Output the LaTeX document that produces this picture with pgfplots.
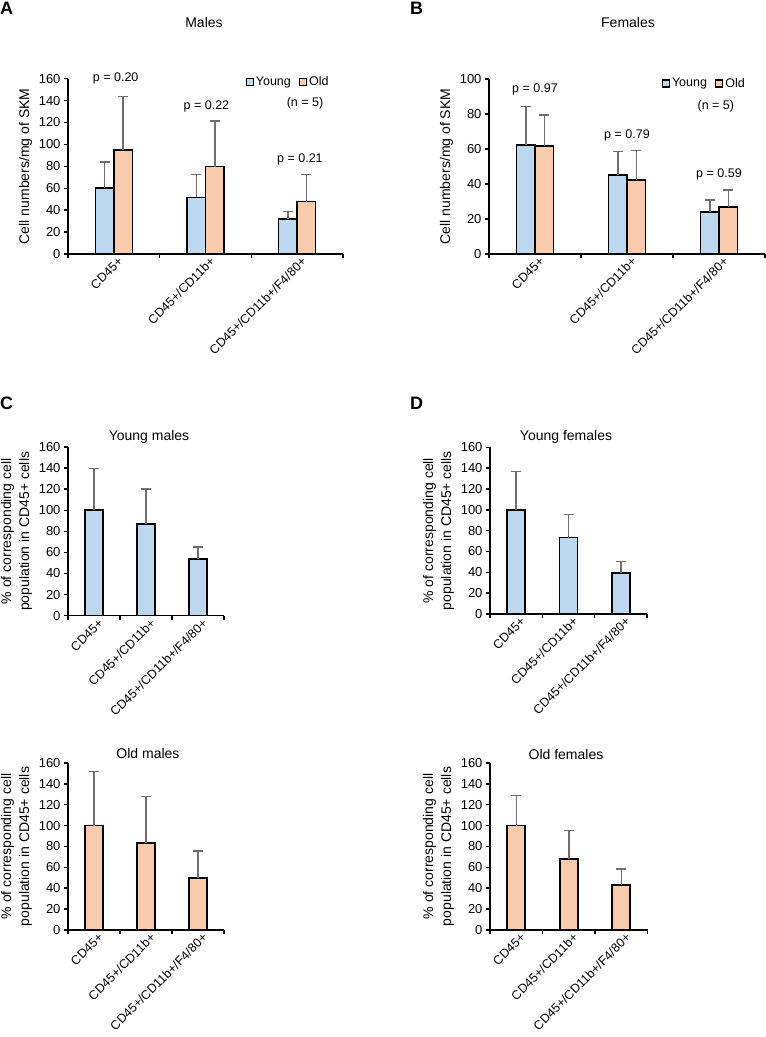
\documentclass[border=0pt]{standalone}
\usepackage{pgfplots}
\pgfplotsset{compat=1.18}
\usepackage{fontspec}
\setmainfont{Liberation Sans}
\definecolor{youngc}{HTML}{BDD7EE}
\definecolor{oldc}{HTML}{F8CBAD}
\definecolor{errc}{HTML}{6E6E6E}
\pgfplotsset{
 base/.style={
  scale only axis,
  axis x line*=bottom, axis y line*=left,
  axis line style={line width=1.6pt, black},
  tick align=outside,
  ymin=0, xmin=-0.5, xmax=2.5,
  xtick={-0.5,0.5,1.5,2.5},
  xticklabels={},
  extra x ticks={0,1,2},
  extra x tick labels={CD45+, CD45+/CD11b+, CD45+/CD11b+/F4/80+},
  extra x tick style={major tick length=0pt},
  x tick label style={rotate=45, anchor=north east, font=\fontsize{12.5}{14}\selectfont, inner sep=1pt, xshift=2pt, yshift=-3pt},
  y tick label style={font=\fontsize{13}{14}\selectfont},
  /pgf/number format/assume math mode=true,
  tick style={line width=1.5pt, black},
  major tick length=4pt,
  ylabel style={font=\fontsize{14}{18}\selectfont, align=center},
  ybar=0pt, bar width=18.5pt,
  clip=false,
  legend image code/.code={\draw[#1, draw=black, line width=1.3pt] (0pt,-3.5pt) rectangle (7pt,3.5pt);},
  legend style={draw=none, fill=none, inner sep=0pt, anchor=west, font=\fontsize{12.5}{14}\selectfont, legend columns=2, /tikz/every even column/.append style={column sep=6pt}},
 },
 ebar/.style={draw=black, line width=1.6pt,
  /pgfplots/error bars/y dir=plus, /pgfplots/error bars/y explicit,
  /pgfplots/error bars/error bar style={errc, line width=1.5pt},
  /pgfplots/error bars/error mark options={errc, line width=1.5pt, mark size=5pt, rotate=90}},
}
\begin{document}
\begin{tikzpicture}
\useasboundingbox (0,0) rectangle (766pt,1037pt);
% panel letters and titles
\node[anchor=west, inner sep=0pt, font=\fontsize{18}{20}\selectfont\bfseries] at (0pt,1028.5pt) {A};
\node[anchor=west, inner sep=0pt, font=\fontsize{18}{20}\selectfont\bfseries] at (410pt,1028.7pt) {B};
\node[anchor=west, inner sep=0pt, font=\fontsize{18}{20}\selectfont\bfseries] at (0pt,633.7pt) {C};
\node[anchor=west, inner sep=0pt, font=\fontsize{18}{20}\selectfont\bfseries] at (410pt,633.7pt) {D};
\node[font=\fontsize{14}{16}\selectfont] at (204pt,1014pt) {Males};
\node[font=\fontsize{14}{16}\selectfont] at (628pt,1014pt) {Females};
\node[font=\fontsize{14}{16}\selectfont] at (149pt,600pt) {Young males};
\node[font=\fontsize{14}{16}\selectfont] at (566pt,600pt) {Young females};
\node[font=\fontsize{14}{16}\selectfont] at (148pt,284pt) {Old males};
\node[font=\fontsize{14}{16}\selectfont] at (566pt,283pt) {Old females};

% Panel A
\begin{axis}[base, at={(68pt,783pt)}, anchor=south west, width=275pt, height=175.3pt,
  ymax=160, ytick={0,20,...,160}, ylabel={Cell numbers/mg of SKM},
  legend style={at={(0.645,0.981)}}]
\addplot[fill=youngc, ebar] coordinates {(0,60.5) +- (0,23.5) (1,51.7) +- (0,20.7) (2,31.9) +- (0,7)};
\addplot[fill=oldc, ebar] coordinates {(0,94.9) +- (0,49) (1,79.7) +- (0,41.7) (2,47.8) +- (0,24.6)};
\legend{Young, Old}
\node[font=\fontsize{12.5}{14}\selectfont] at (axis cs:0.02,160) {p = 0.20};
\node[font=\fontsize{12.5}{14}\selectfont] at (axis cs:1.01,134.4) {p = 0.22};
\node[font=\fontsize{12.5}{14}\selectfont] at (axis cs:2.03,86.4) {p = 0.21};
\node[font=\fontsize{12.5}{14}\selectfont] at (rel axis cs:0.862,0.861) {(n = 5)};
\end{axis}

% Panel B
\begin{axis}[base, at={(489pt,783pt)}, anchor=south west, width=276pt, height=175pt,
  ymax=100, ytick={0,20,...,100}, ylabel={Cell numbers/mg of SKM},
  legend style={at={(0.625,0.975)}}]
\addplot[fill=youngc, ebar] coordinates {(0,62.2) +- (0,22.2) (1,45.2) +- (0,13.5) (2,24.1) +- (0,6.7)};
\addplot[fill=oldc, ebar] coordinates {(0,61.8) +- (0,17.7) (1,42.4) +- (0,16.7) (2,27) +- (0,9.5)};
\legend{Young, Old}
\node[font=\fontsize{12.5}{14}\selectfont] at (axis cs:0,94) {p = 0.97};
\node[font=\fontsize{12.5}{14}\selectfont] at (axis cs:1,68) {p = 0.79};
\node[font=\fontsize{12.5}{14}\selectfont] at (axis cs:2,45.7) {p = 0.59};
\node[font=\fontsize{12.5}{14}\selectfont] at (rel axis cs:0.822,0.846) {(n = 5)};
\end{axis}

% Panel C top
\begin{axis}[base, at={(68pt,421.3pt)}, anchor=south west, width=156pt, height=168.7pt,
  ymax=160, ytick={0,20,...,160}, bar width=18pt,
  ylabel={\% of corresponding cell\\population in CD45+ cells}]
\addplot[fill=youngc, ebar] coordinates {(0,100) +- (0,39.7) (1,86.8) +- (0,33.3) (2,53.9) +- (0,11.4)};
\end{axis}

% Panel D top
\begin{axis}[base, at={(490pt,423pt)}, anchor=south west, width=157pt, height=166.7pt,
  ymax=160, ytick={0,20,...,160}, bar width=18pt,
  ylabel={\% of corresponding cell\\population in CD45+ cells}]
\addplot[fill=youngc, ebar] coordinates {(0,100) +- (0,37) (1,73.3) +- (0,22.1) (2,39.4) +- (0,10.8)};
\end{axis}

% Panel C bottom
\begin{axis}[base, at={(68pt,107pt)}, anchor=south west, width=156pt, height=167pt,
  ymax=160, ytick={0,20,...,160}, bar width=18pt,
  ylabel={\% of corresponding cell\\population in CD45+ cells}]
\addplot[fill=oldc, ebar] coordinates {(0,100) +- (0,51.7) (1,83.5) +- (0,44.2) (2,49.6) +- (0,25.9)};
\end{axis}

% Panel D bottom
\begin{axis}[base, at={(490pt,107pt)}, anchor=south west, width=157.5pt, height=167pt,
  ymax=160, ytick={0,20,...,160}, bar width=18pt,
  ylabel={\% of corresponding cell\\population in CD45+ cells}]
\addplot[fill=oldc, ebar] coordinates {(0,100) +- (0,29) (1,68) +- (0,27.4) (2,43.2) +- (0,15.4)};
\end{axis}
\end{tikzpicture}
\end{document}
